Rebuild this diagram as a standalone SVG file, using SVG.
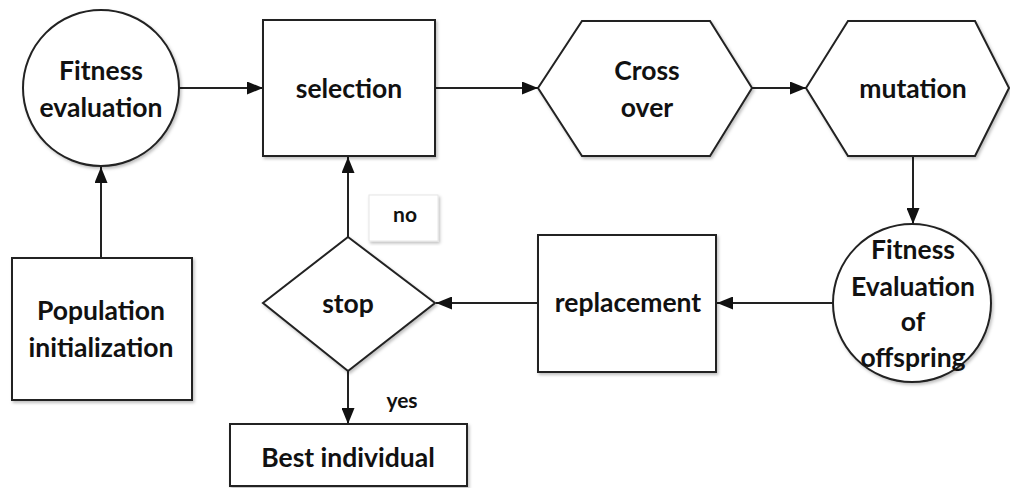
<svg xmlns="http://www.w3.org/2000/svg" width="1010" height="488" viewBox="0 0 1010 488">
<style>
.shape{fill:#ffffff;stroke:#222222;stroke-width:2;filter:url(#sh)}
.lbl{font-family:Lato,"Open Sans","Liberation Sans",sans-serif;font-weight:bold;font-size:26.5px;fill:#111111;text-anchor:middle}
.small{font-size:21px}
.edge{stroke:#222222;stroke-width:2;fill:none;marker-end:url(#arr)}
</style>
<defs>
<marker id="arr" viewBox="0 0 16 13" refX="16" refY="6.5" markerWidth="16" markerHeight="13" markerUnits="userSpaceOnUse" orient="auto">
<path d="M0,0 L16,6.5 L0,13 Z" fill="#111111"/>
</marker>
<filter id="sh" x="-10%" y="-10%" width="120%" height="120%">
<feDropShadow dx="1.5" dy="2" stdDeviation="1.5" flood-color="#000000" flood-opacity="0.25"/>
</filter>
</defs>
<rect width="1010" height="488" fill="#ffffff"/>
<g id="connectors">
<line class="edge" x1="179" y1="88" x2="263" y2="88"/>
<line class="edge" x1="435" y1="88" x2="538" y2="88"/>
<line class="edge" x1="752" y1="88" x2="806" y2="88"/>
<line class="edge" x1="913" y1="156" x2="913" y2="224"/>
<line class="edge" x1="834" y1="303" x2="717" y2="303"/>
<line class="edge" x1="538" y1="303" x2="436" y2="303"/>
<line class="edge" x1="348" y1="237" x2="348" y2="157"/>
<line class="edge" x1="348" y1="371" x2="348" y2="424"/>
<line class="edge" x1="101" y1="258" x2="101" y2="167"/>
</g>
<g id="fitness-evaluation">
<circle class="shape" cx="101" cy="88" r="78"/>
<text class="lbl" x="101" y="80">Fitness</text>
<text class="lbl" x="101" y="117">evaluation</text>
</g>
<g id="selection">
<rect class="shape" x="263" y="20" width="172" height="136"/>
<text class="lbl" x="349" y="98">selection</text>
</g>
<g id="crossover">
<polygon class="shape" points="538,88 582,21 710,21 752,88 710,156 582,156"/>
<text class="lbl" x="647" y="80">Cross</text>
<text class="lbl" x="647" y="117">over</text>
</g>
<g id="mutation">
<polygon class="shape" points="806,88 848,21 975,21 1009,88 975,156 848,156"/>
<text class="lbl" x="913" y="98">mutation</text>
</g>
<g id="fitness-offspring">
<circle class="shape" cx="912" cy="303" r="79"/>
<text class="lbl" x="913" y="259">Fitness</text>
<text class="lbl" x="913" y="296">Evaluation</text>
<text class="lbl" x="913" y="331">of</text>
<text class="lbl" x="913" y="367">offspring</text>
</g>
<g id="replacement">
<rect class="shape" x="538" y="235" width="178" height="137"/>
<text class="lbl" x="628" y="312">replacement</text>
</g>
<g id="stop">
<polygon class="shape" points="348,237 435,303 348,371 263,303"/>
<text class="lbl" x="348" y="313">stop</text>
</g>
<g id="no-label">
<rect x="369" y="195" width="69" height="46" fill="#ffffff" stroke="#e6e6e6" stroke-width="1" filter="url(#sh)"/>
<text class="lbl small" x="405" y="222">no</text>
</g>
<g id="population">
<rect class="shape" x="12" y="258" width="180" height="142"/>
<text class="lbl" x="101" y="320">Population</text>
<text class="lbl" x="101" y="357">initialization</text>
</g>
<g id="yes-label">
<text class="lbl small" x="402" y="408">yes</text>
</g>
<g id="best">
<rect class="shape" x="230" y="424" width="237" height="62"/>
<text class="lbl" x="348" y="467">Best individual</text>
</g>
</svg>
